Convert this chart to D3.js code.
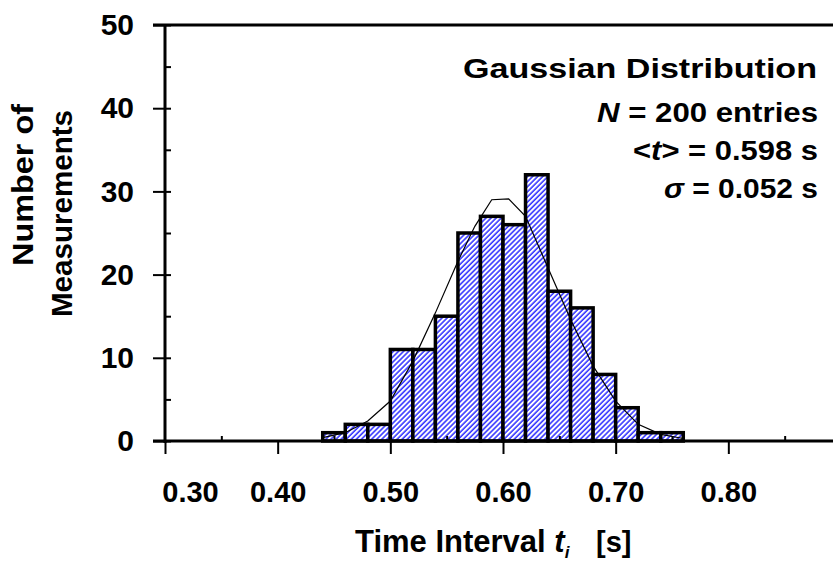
<!DOCTYPE html>
<html>
<head>
<meta charset="utf-8">
<script src="https://cdn.jsdelivr.net/npm/d3@7"></script>
<style>
  html, body { margin: 0; padding: 0; background: #fff; }
  svg { display: block; font-family: "Liberation Sans", Arial, sans-serif; font-weight: bold; }
</style>
</head>
<body>
<div id="main"></div>
<script>
// histogram of 200 measured time intervals
const binEdges = [0.44, 0.46, 0.48, 0.50, 0.52, 0.54, 0.56, 0.58, 0.60, 0.62, 0.64, 0.66, 0.68, 0.70, 0.72, 0.74, 0.76];
const counts = [1, 2, 2, 11, 11, 15, 25, 27, 26, 32, 18, 16, 8, 4, 1, 1];

// fitted gaussian, points
const curveX = [0.44, 0.46, 0.48, 0.50, 0.52, 0.54, 0.56, 0.575, 0.59, 0.605, 0.62, 0.64, 0.66, 0.68, 0.70, 0.72, 0.74, 0.76];
const curveY = [0.4, 1.0, 2.4, 4.8, 9.6, 15.4, 21.6, 25.8, 29.0, 29.1, 27.0, 20.8, 14.6, 9.0, 4.8, 2.0, 0.8, 0.3];

const xTicks = [0.30, 0.40, 0.50, 0.60, 0.70, 0.80];
const xMinor = [0.35, 0.45, 0.55, 0.65, 0.75, 0.85];
const yTicks = [0, 10, 20, 30, 40, 50];
const yMinor = [5, 15, 25, 35, 45];

const width = 833, height = 561;
const svg = d3.select('#main').append('svg').attr('width', width).attr('height', height);
svg.append('rect').attr('width', width).attr('height', height).attr('fill', '#fff');

const x = d3.scaleLinear().domain([0.30, 0.90]).range([165, 841]);
const y = d3.scaleLinear().domain([0, 50]).range([441, 25]);

// blue diagonal hatching
const pat = svg.append('defs').append('pattern')
  .attr('id', 'hatch').attr('patternUnits', 'userSpaceOnUse')
  .attr('width', 3.6).attr('height', 10)
  .attr('patternTransform', 'rotate(45)');
pat.append('rect').attr('width', 3.6).attr('height', 10).attr('fill', '#fff');
pat.append('line').attr('x1', 1).attr('x2', 1).attr('y1', 0).attr('y2', 10)
  .attr('stroke', '#1a1aff').attr('stroke-width', 1.4);

// bars
svg.append('g').selectAll('rect').data(counts).join('rect')
  .attr('x', (d, i) => x(binEdges[i]))
  .attr('width', (d, i) => x(binEdges[i + 1]) - x(binEdges[i]))
  .attr('y', d => y(d))
  .attr('height', d => y(0) - y(d))
  .attr('fill', 'url(#hatch)')
  .attr('stroke', '#000').attr('stroke-width', 3.5);

// gaussian curve
svg.append('path')
  .datum(curveX.map((v, i) => [v, curveY[i]]))
  .attr('fill', 'none').attr('stroke', '#000').attr('stroke-width', 1.2)
  .attr('d', d3.line().x(d => x(d[0])).y(d => y(d[1])));

// axes
const yAxis = svg.append('g').attr('transform', `translate(${x(0.30)},0)`)
  .call(d3.axisLeft(y).tickValues(yTicks).tickSize(12).tickPadding(19).tickFormat(d3.format('d')));
svg.append('g').attr('transform', `translate(${x(0.30)},0)`)
  .call(d3.axisRight(y).tickValues(yTicks.concat(yMinor)).tickSize(6).tickFormat(''));
const xAxis = svg.append('g').attr('transform', `translate(0,${y(0)})`)
  .call(d3.axisBottom(x).tickValues(xTicks).tickSize(13).tickPadding(27).tickFormat(d3.format('.2f')));
svg.append('g').attr('transform', `translate(0,${y(0)})`)
  .call(d3.axisTop(x).tickValues(xMinor).tickSize(5).tickFormat(''));

svg.selectAll('.domain').remove();
svg.selectAll('.tick line').attr('stroke', '#000').attr('stroke-width', 2);
yAxis.selectAll('text').attr('font-size', 30).attr('fill', '#000');
xAxis.selectAll('text').attr('font-size', 29).attr('fill', '#000');
// first label sits to the right of its tick, clear of the y axis
xAxis.selectAll('.tick').filter(d => d === 0.30).select('text').attr('dx', 25);

// frame lines: left, bottom, top
const frame = svg.append('g').attr('stroke', '#000').attr('stroke-width', 3);
frame.append('line').attr('x1', x(0.30)).attr('x2', x(0.30)).attr('y1', y(50)).attr('y2', y(0) + 2);
frame.append('line').attr('x1', x(0.30) - 12).attr('x2', width).attr('y1', y(0)).attr('y2', y(0));
frame.append('line').attr('x1', x(0.30) - 12).attr('x2', width).attr('y1', y(50)).attr('y2', y(50));

// axis titles
const xt = svg.append('text').attr('x', 355).attr('y', 552).attr('font-size', 31).attr('fill', '#000');
xt.append('tspan').text('Time Interval ');
xt.append('tspan').attr('font-style', 'italic').text('t');
xt.append('tspan').attr('font-size', 17).attr('font-style', 'italic').attr('dy', 6).text('i');
svg.append('text').attr('x', 596).attr('y', 552).attr('font-size', 29).attr('fill', '#000').text('[s]');

const yt = svg.append('g').attr('font-size', 29).attr('fill', '#000');
yt.append('text').attr('transform', 'translate(33,266) rotate(-90)')
  .attr('textLength', 162).attr('lengthAdjust', 'spacingAndGlyphs').text('Number of');
yt.append('text').attr('transform', 'translate(72,317) rotate(-90)')
  .attr('textLength', 207).attr('lengthAdjust', 'spacingAndGlyphs').text('Measurements');

// statistics box
const st = svg.append('g').attr('fill', '#000').attr('text-anchor', 'end');
st.append('text').attr('x', 817).attr('y', 78).attr('font-size', 28)
  .attr('textLength', 354).attr('lengthAdjust', 'spacingAndGlyphs').text('Gaussian Distribution');
const l1 = st.append('text').attr('x', 818).attr('y', 122).attr('font-size', 27)
  .attr('textLength', 221).attr('lengthAdjust', 'spacingAndGlyphs');
l1.append('tspan').attr('font-style', 'italic').text('N');
l1.append('tspan').text(' = 200 entries');
const l2 = st.append('text').attr('x', 818).attr('y', 160).attr('font-size', 27)
  .attr('textLength', 185).attr('lengthAdjust', 'spacingAndGlyphs');
l2.append('tspan').text('<');
l2.append('tspan').attr('font-style', 'italic').text('t');
l2.append('tspan').text('> = 0.598 s');
const l3 = st.append('text').attr('x', 818).attr('y', 198).attr('font-size', 27)
  .attr('textLength', 154).attr('lengthAdjust', 'spacingAndGlyphs');
l3.append('tspan').attr('font-style', 'italic').text('\u03c3');
l3.append('tspan').text(' = 0.052 s');
</script>
</body>
</html>
